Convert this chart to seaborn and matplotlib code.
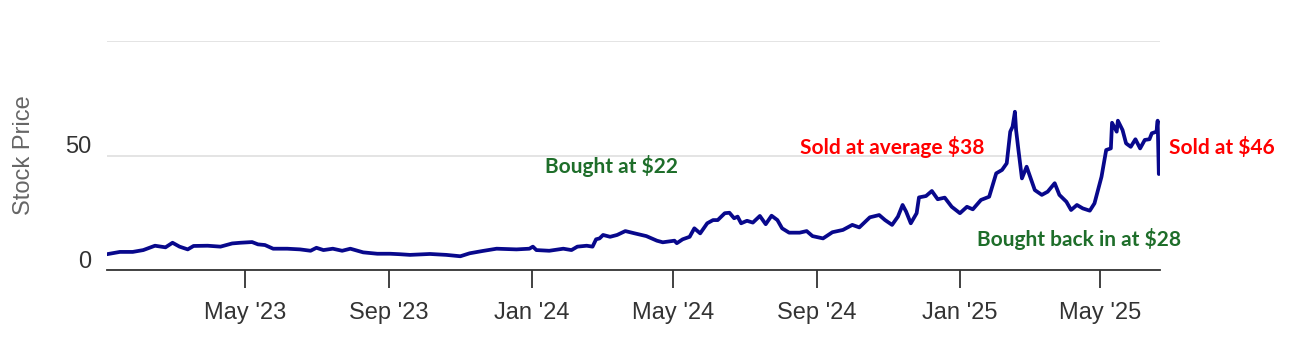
import matplotlib
matplotlib.use("Agg")
import matplotlib.pyplot as plt
from matplotlib.transforms import ScaledTranslation
import seaborn as sns
import pandas as pd

dates = [
    "2023-01-03", "2023-01-14", "2023-01-25", "2023-02-03", "2023-02-13", "2023-02-22",
    "2023-02-28", "2023-03-06", "2023-03-13", "2023-03-18", "2023-03-30", "2023-04-10",
    "2023-04-20", "2023-04-27", "2023-05-07", "2023-05-12", "2023-05-18", "2023-05-25",
    "2023-06-06", "2023-06-17", "2023-06-26", "2023-07-01", "2023-07-07", "2023-07-15",
    "2023-07-23", "2023-07-30", "2023-08-10", "2023-08-22", "2023-09-02", "2023-09-10",
    "2023-09-19", "2023-10-06", "2023-10-20", "2023-11-01", "2023-11-09", "2023-11-20",
    "2023-12-02", "2023-12-19", "2023-12-30", "2024-01-02", "2024-01-05", "2024-01-16",
    "2024-01-28", "2024-02-04", "2024-02-09", "2024-02-17", "2024-02-22", "2024-02-25",
    "2024-02-28", "2024-03-02", "2024-03-08", "2024-03-14", "2024-03-21", "2024-03-29",
    "2024-04-08", "2024-04-17", "2024-04-22", "2024-05-02", "2024-05-04", "2024-05-09",
    "2024-05-15", "2024-05-19", "2024-05-24", "2024-05-30", "2024-06-04", "2024-06-08",
    "2024-06-14", "2024-06-18", "2024-06-22", "2024-06-25", "2024-06-28", "2024-07-03",
    "2024-07-08", "2024-07-14", "2024-07-19", "2024-07-24", "2024-07-29", "2024-08-02",
    "2024-08-08", "2024-08-17", "2024-08-23", "2024-08-28", "2024-09-06", "2024-09-14",
    "2024-09-23", "2024-10-01", "2024-10-07", "2024-10-16", "2024-10-24", "2024-10-29",
    "2024-11-04", "2024-11-09", "2024-11-13", "2024-11-16", "2024-11-20", "2024-11-25",
    "2024-11-27", "2024-12-03", "2024-12-08", "2024-12-13", "2024-12-19", "2024-12-25",
    "2025-01-01", "2025-01-07", "2025-01-12", "2025-01-19", "2025-01-26", "2025-02-01",
    "2025-02-06", "2025-02-10", "2025-02-13", "2025-02-15", "2025-02-17", "2025-02-18",
    "2025-02-20", "2025-02-23", "2025-02-27", "2025-03-03", "2025-03-06", "2025-03-12",
    "2025-03-17", "2025-03-23", "2025-03-27", "2025-04-02", "2025-04-06", "2025-04-11",
    "2025-04-16", "2025-04-22", "2025-04-26", "2025-04-29", "2025-05-02", "2025-05-06",
    "2025-05-10", "2025-05-11", "2025-05-15", "2025-05-16", "2025-05-20", "2025-05-23",
    "2025-05-27", "2025-05-31", "2025-06-04", "2025-06-08", "2025-06-12", "2025-06-14",
    "2025-06-18", "2025-06-19", "2025-06-20",
]
prices = [
    6.9, 7.9, 7.9, 8.7, 10.6, 9.9,
    11.9, 10.2, 9.0, 10.5, 10.6, 10.2,
    11.6, 11.9, 12.2, 11.2, 10.9, 9.3,
    9.3, 9.0, 8.4, 9.7, 8.7, 9.3,
    8.4, 9.3, 7.7, 7.1, 7.1, 6.9,
    6.6, 7.0, 6.6, 6.0, 7.3, 8.3,
    9.3, 9.0, 9.3, 10.2, 8.7, 8.4,
    9.3, 8.7, 10.2, 10.6, 10.2, 13.4,
    13.8, 15.3, 14.5, 15.3, 17.0, 16.0,
    14.8, 12.8, 12.1, 12.8, 11.7, 13.4,
    14.5, 18.2, 16.0, 20.4, 21.8, 21.8,
    24.8, 25.0, 22.6, 23.3, 20.4, 21.5,
    20.7, 23.6, 20.0, 23.7, 21.8, 18.2,
    16.3, 16.3, 17.0, 14.8, 13.8, 16.5,
    17.5, 19.7, 18.6, 23.0, 24.0, 21.8,
    19.7, 23.3, 28.4, 25.5, 20.4, 24.8,
    31.7, 32.3, 34.5, 30.9, 31.6, 27.6,
    24.8, 27.6, 26.5, 30.6, 32.0, 42.2,
    43.7, 46.6, 60.4, 62.6, 69.1, 61.1,
    52.4, 40.0, 45.1, 39.3, 34.9, 32.8,
    34.2, 37.9, 32.8, 29.8, 26.2, 28.4,
    26.9, 25.9, 29.1, 34.9, 40.7, 52.4,
    53.1, 64.3, 60.4, 65.2, 61.1, 55.3,
    53.8, 57.1, 53.1, 56.8, 57.1, 59.7,
    60.4, 65.2, 41.9,
]

tick_dates = ["2023-05-01", "2023-09-01", "2024-01-01", "2024-05-01",
              "2024-09-01", "2025-01-01", "2025-05-01"]
tick_labels = ["May '23", "Sep '23", "Jan '24", "May '24", "Sep '24", "Jan '25", "May '25"]
y_ticks = [0, 50, 100]
y_tick_labels = ["0", "50", ""]

annot_texts = ["Bought at $22", "Sold at average $38", "Sold at $46", "Bought back in at $28"]
annot_dates = ["2024-03-09", "2024-11-04", "2025-08-13", "2025-04-13"]
annot_values = [45.5, 53.5, 53.5, 13.5]
annot_colors = ["#1e6e2a", "#ff0000", "#ff0000", "#1e6e2a"]

df = pd.DataFrame({"date": pd.to_datetime(dates), "price": prices})

sns.set_theme(style="white")
plt.rcParams["font.family"] = ["Liberation Sans", "DejaVu Sans"]

fig = plt.figure(figsize=(12.92, 3.49), dpi=100)
ax = fig.add_axes([107 / 1292, 79 / 349, (1160 - 107) / 1292, 229 / 349])

sns.lineplot(data=df, x="date", y="price", ax=ax, color="#08088c", linewidth=2.7)

ax.set_xlim(pd.Timestamp("2023-01-03"), pd.Timestamp("2025-06-21"))
ax.set_ylim(0, 100)

ax.set_xticks(pd.to_datetime(tick_dates))
ax.set_xticklabels(tick_labels)
ax.set_yticks(y_ticks)
ax.set_yticklabels(y_tick_labels)

ax.grid(axis="y", color="#e2e2e2", linewidth=1.3)
ax.grid(axis="x", visible=False)
for side in ["top", "right", "left"]:
    ax.spines[side].set_visible(False)
ax.spines["bottom"].set_color("#333333")
ax.spines["bottom"].set_linewidth(1.3)
ax.spines["bottom"].set_zorder(3)

ax.tick_params(axis="x", direction="out", length=13, width=1.3, color="#333333",
               labelsize=17, labelcolor="#333333", pad=10, bottom=True)
ax.tick_params(axis="y", length=0, labelsize=17, labelcolor="#333333", pad=11)
for lab in ax.get_yticklabels():
    lab.set_transform(lab.get_transform() + ScaledTranslation(0, 11 / 100, fig.dpi_scale_trans))

ax.set_xlabel("")
ax.set_ylabel("Stock Price", fontsize=17, color="#666666")
ax.yaxis.set_label_coords(-0.068, 0.5)

for txt, d, v, c in zip(annot_texts, annot_dates, annot_values, annot_colors):
    ax.text(pd.Timestamp(d), v, txt, color=c, fontsize=15, fontweight="bold",
            family=["Lato", "DejaVu Sans"], ha="center", va="center", clip_on=False)

fig.savefig("out.png", dpi=100)
